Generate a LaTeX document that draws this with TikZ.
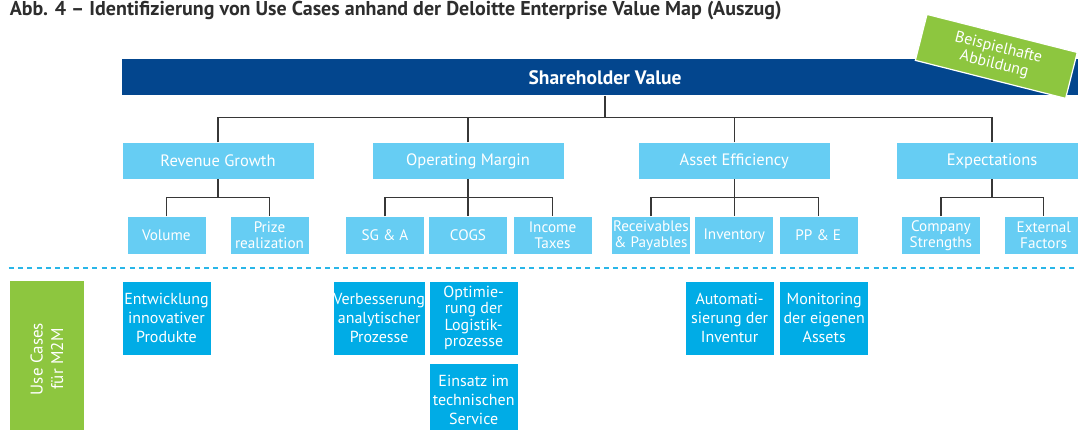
\documentclass[tikz,border=0pt]{standalone}
\usepackage{fontspec}
\setmainfont{PT Sans}
\definecolor{navy}{RGB}{3,70,142}
\definecolor{sky}{RGB}{102,205,243}
\definecolor{cyanbox}{RGB}{0,172,230}
\definecolor{leafgreen}{RGB}{141,198,63}
\definecolor{sepblue}{RGB}{41,182,232}
\definecolor{ink}{RGB}{45,45,45}
\definecolor{wirecol}{RGB}{55,55,55}
\begin{document}
\begin{tikzpicture}[x=1pt,y=-1pt,
  box/.style={inner sep=0pt, draw=white, line width=0.6pt, text=white, align=center},
  tier/.style={box, fill=sky, minimum width=192pt, minimum height=36.5pt,
    font=\fontsize{16.5}{18}\selectfont},
  subbox/.style={box, fill=sky, minimum width=79pt, minimum height=37.3pt,
    font=\fontsize{15.2}{15.7}\selectfont},
  usecase/.style={box, fill=cyanbox, minimum width=89pt, minimum height=74pt,
    font=\fontsize{16}{18.8}\selectfont},
  wire/.style={draw=wirecol, line width=1.3pt},
]
\useasboundingbox (0,0) rectangle (1078,430);
\clip (0,0) rectangle (1078,430);

% caption
\node[anchor=base west, inner sep=0pt, text=ink,
      font=\bfseries\fontsize{20}{22}\selectfont] (title) at (9.6,15.5)
  {Abb. 4 – Identifizierung von Use Cases anhand der Deloitte Enterprise Value Map (Auszug)};

% top bar
\node[inner sep=0pt, fill=navy, text=white, minimum width=966pt, minimum height=36.3pt,
      font=\bfseries\fontsize{19.5}{21}\selectfont] (sv) at (605,77.2) {Shareholder Value};

% stamp
\node[inner sep=0pt, fill=leafgreen, draw=white, line width=1.2pt, text=white,
      minimum width=155pt, minimum height=47.4pt, rotate=-14.2, align=center,
      font=\fontsize{16}{17}\selectfont] (stamp) at (996.3,56.4) {Beispielhafte\\Abbildung};

% second level
\node[tier] (rg) at (218,160.9) {Revenue Growth};
\node[tier] (om) at (468,160.9) {Operating Margin};
\node[tier] (ae) at (734.2,160.9) {Asset Efficiency};
\node[tier] (ex) at (992,160.9) {Expectations};

% third level
\node[subbox] (vol)  at (166.3,235.4) {Volume};
\node[subbox] (prz)  at (269.5,235.4) {Prize\\realization};
\node[subbox] (sga)  at (385,235.4) {SG \& A};
\node[subbox] (cogs) at (468,235.4) {COGS};
\node[subbox] (tax)  at (552.5,235.4) {Income\\Taxes};
\node[subbox] (rec)  at (650.9,235.4) {Receivables\\\& Payables};
\node[subbox] (inv)  at (734.2,235.4) {Inventory};
\node[subbox] (ppe)  at (818.3,235.4) {PP \& E};
\node[subbox] (cs)   at (940.9,235.4) {Company\\Strengths};
\node[subbox] (ef)   at (1043.7,235.4) {External\\Factors};

% tree wiring
\coordinate (top) at (0,117.7);
\coordinate (mid) at (0,197.5);
\draw[wire] (sv.south) -- (sv.south |- top);
\draw[wire] (rg.north) -- (rg.north |- top) -- (ex.north |- top) -- (ex.north);
\draw[wire] (om.north) -- (om.north |- top);
\draw[wire] (ae.north) -- (ae.north |- top);

\draw[wire] (rg.south) -- (rg.south |- mid);
\draw[wire] (vol.north) -- (vol.north |- mid) -- (prz.north |- mid) -- (prz.north);
\draw[wire] (om.south) -- (cogs.north);
\draw[wire] (sga.north) -- (sga.north |- mid) -- (tax.north |- mid) -- (tax.north);
\draw[wire] (ae.south) -- (inv.north);
\draw[wire] (rec.north) -- (rec.north |- mid) -- (ppe.north |- mid) -- (ppe.north);
\draw[wire] (ex.south) -- (ex.south |- mid);
\draw[wire] (cs.north) -- (cs.north |- mid) -- (ef.north |- mid) -- (ef.north);

% separator
\coordinate (sepL) at (8.6,268.3);
\coordinate (sepR) at (1078,268.3);
\draw[sepblue, line width=2pt, dash pattern=on 5pt off 4.3pt] (sepL) -- (sepR);

% use case band
\node[inner sep=0pt, fill=leafgreen, minimum width=74pt, minimum height=160pt] (band) at (47,361) {};
\node[inner sep=0pt, text=white, rotate=90, align=center,
      font=\fontsize{17}{20.5}\selectfont] (bandtxt) at (47,359) {Use Cases\\für M2M};

\node[usecase] (uc1) at (166.5,318) {Entwicklung\\innovativer\\Produkte};
\node[usecase] (uc2) at (379.2,318) {Verbesserung\\analytischer\\Prozesse};
\node[usecase, font=\fontsize{16}{16.3}\selectfont] (uc3) at (473.7,318) {Optimie-\\rung der\\Logistik-\\prozesse};
\node[usecase] (uc4) at (473.7,400) {Einsatz im\\technischen\\Service};
\node[usecase] (uc5) at (729.6,318) {Automati-\\sierung der\\Inventur};
\node[usecase] (uc6) at (824.2,318) {Monitoring\\der eigenen\\Assets};
\end{tikzpicture}
\end{document}
